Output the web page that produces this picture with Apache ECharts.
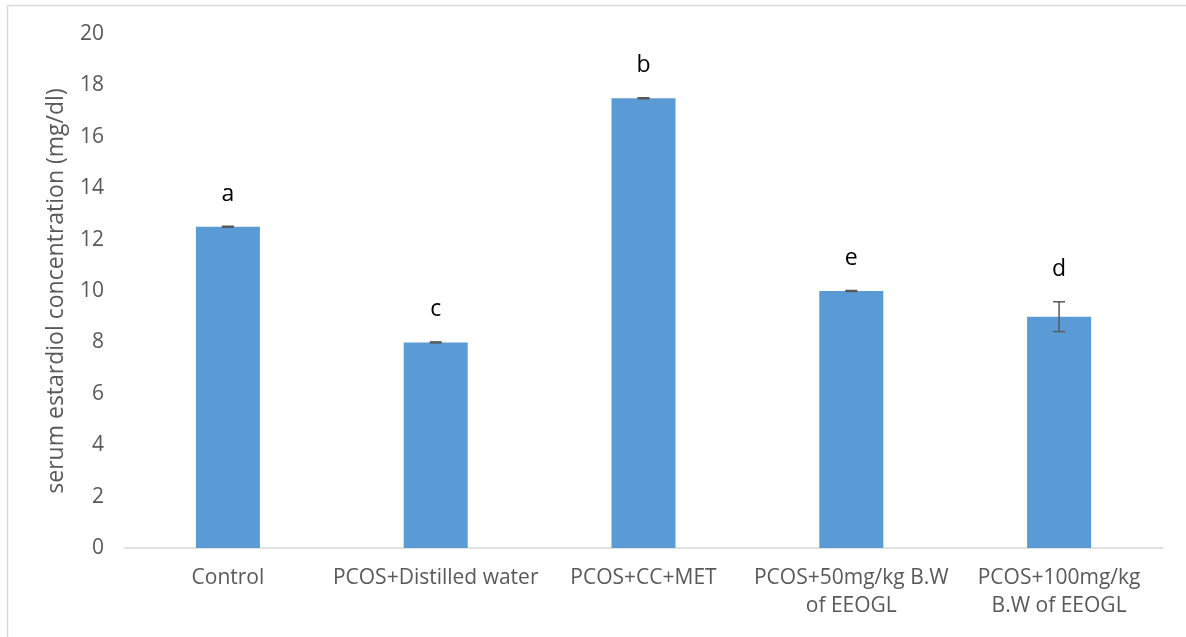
<!DOCTYPE html>
<html>
<head>
<meta charset="utf-8">
<script src="https://cdn.jsdelivr.net/npm/echarts@6/dist/echarts.min.js"></script>
<style>
  html, body { margin: 0; padding: 0; background: #fff; }
  #chart { width: 1186px; height: 637px; }
</style>
</head>
<body>
<div id="chart"></div>
<script>
// groups, means, error (+/-), significance letters
var categories = ['Control', 'PCOS+Distilled water', 'PCOS+CC+MET', 'PCOS+50mg/kg B.W\nof EEOGL', 'PCOS+100mg/kg\nB.W of EEOGL'];
var values = [12.5, 8, 17.5, 10, 9];
var errors = [0.02, 0.02, 0.02, 0.02, 0.58];
var letters = ['a', 'c', 'b', 'e', 'd'];
var yTicks = [0, 2, 4, 6, 8, 10, 12, 14, 16, 18, 20];

var font = '"Open Sans", "Noto Sans", sans-serif';

var errData = values.map(function (v, i) {
    return [i, v - errors[i], v + errors[i], letters[i]];
});

var chart = echarts.init(document.getElementById('chart'));

var option = {
    animation: false,
    graphic: [{
        type: 'rect',
        shape: { x: 7.5, y: 5.5, width: 1300, height: 700 },
        style: { fill: 'none', stroke: '#d9d9d9', lineWidth: 1.5 },
        silent: true
    }],
    grid: { left: 124, right: 23, top: 34, bottom: 89 },
    xAxis: {
        type: 'category',
        data: categories,
        axisTick: { show: false },
        axisLine: { lineStyle: { color: '#d9d9d9', width: 1.5 } },
        axisLabel: {
            color: '#595959', fontSize: 21, fontFamily: font,
            margin: 16, lineHeight: 28, interval: 0
        }
    },
    yAxis: {
        type: 'value',
        min: yTicks[0], max: yTicks[yTicks.length - 1], interval: 2,
        name: 'serum estardiol concentration (mg/dl)',
        nameLocation: 'middle',
        nameGap: 56,
        nameTextStyle: { color: '#595959', fontSize: 23, fontFamily: font },
        splitLine: { show: false },
        axisLine: { show: false },
        axisTick: { show: false },
        axisLabel: { color: '#595959', fontSize: 21, fontFamily: font, margin: 20 }
    },
    series: [
        {
            type: 'bar',
            data: values,
            barWidth: 64,
            itemStyle: { color: '#5b9bd5' }
        },
        {
            type: 'custom',
            data: errData,
            z: 10,
            renderItem: function (params, api) {
                var lo = api.coord([api.value(0), api.value(1)]);
                var hi = api.coord([api.value(0), api.value(2)]);
                var w = 6;
                var st = { stroke: '#595959', lineWidth: 1.5 };
                return {
                    type: 'group',
                    children: [
                        { type: 'line', shape: { x1: hi[0], y1: hi[1], x2: lo[0], y2: lo[1] }, style: st },
                        { type: 'line', shape: { x1: hi[0] - w, y1: hi[1], x2: hi[0] + w, y2: hi[1] }, style: st },
                        { type: 'line', shape: { x1: lo[0] - w, y1: lo[1], x2: lo[0] + w, y2: lo[1] }, style: st },
                        {
                            type: 'text',
                            x: hi[0], y: hi[1] - 32,
                            style: {
                                text: letters[params.dataIndex],
                                fill: '#000', fontSize: 23, fontFamily: font,
                                align: 'center', verticalAlign: 'middle'
                            }
                        }
                    ]
                };
            }
        }
    ]
};

chart.setOption(option);
</script>
</body>
</html>
